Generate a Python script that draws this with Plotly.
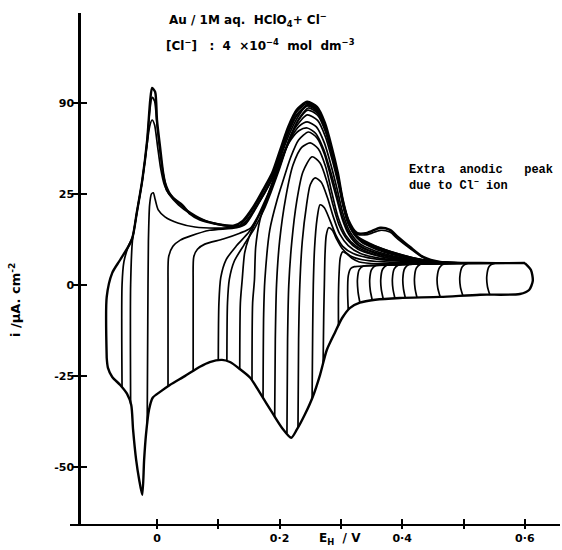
import plotly.graph_objects as go

# ---------------- data (E / V vs SHE, i / uA cm^-2) ----------------
# cathodic envelope (common negative-going sweep, from 0.6 V down to -0.08 V)
cath_E = [0.600, 0.610, 0.613, 0.607, 0.592, 0.527, 0.462, 0.396, 0.356, 0.331, 0.315, 0.302, 0.290,
          0.277, 0.266, 0.254, 0.241, 0.228, 0.219, 0.204, 0.189, 0.168, 0.152, 0.135, 0.119, 0.106,
          0.086, 0.070, 0.046, 0.021, 0.005, -0.007, -0.013, -0.018, -0.021, -0.024, -0.029, -0.034,
          -0.039, -0.042, -0.049, -0.060, -0.073, -0.080, -0.082]
cath_i = [6.0, 4.1, 1.1, -1.4, -2.5, -2.7, -3.3, -3.6, -4.1, -4.9, -6.3, -9.1, -13.2,
          -17.9, -24.7, -30.8, -35.7, -39.8, -42.0, -39.3, -35.4, -29.7, -25.5, -23.1, -21.2, -20.6,
          -21.2, -22.5, -25.0, -27.5, -29.4, -31.0, -34.3, -41.2, -48.1, -57.7, -53.6, -48.1,
          -39.8, -33.0, -29.9, -27.5, -25.3, -22.8, -20.1]

# anodic (positive-going) branches, one per reversal potential
a00_E = [-0.082, -0.082, -0.073, -0.060, -0.041, -0.033, -0.024, -0.016, -0.011, -0.008, -0.003, 0.000,
         0.005, 0.010, 0.016, 0.026, 0.041, 0.054, 0.070, 0.095, 0.124, 0.140, 0.157, 0.173, 0.188,
         0.201, 0.214, 0.228, 0.245, 0.261, 0.274, 0.285, 0.295, 0.303, 0.312, 0.326, 0.343, 0.364,
         0.380, 0.393, 0.413, 0.434, 0.462, 0.527, 0.600]
a00_i = [-20.1, -3.3, 3.3, 6.9, 12.4, 19.8, 28.8, 39.8, 50.8, 54.1, 53.0, 45.3,
         37.9, 30.8, 26.1, 23.9, 22.0, 19.5, 17.9, 16.8, 16.2, 17.6, 21.4, 26.1, 30.8,
         37.1, 43.4, 48.1, 50.3, 48.9, 44.5, 37.9, 30.8, 23.4, 17.9, 14.3, 14.3, 15.7,
         15.1, 13.2, 10.4, 7.7, 6.3, 6.0, 6.0]

a01_E = [-0.057, -0.057, -0.054, -0.047, -0.039, -0.033, -0.024, -0.016, -0.012, -0.008, -0.004, 0.000,
         0.005, 0.012, 0.020, 0.035, 0.055, 0.080, 0.110, 0.135, 0.157, 0.173, 0.188, 0.201, 0.214,
         0.228, 0.246, 0.261, 0.274, 0.285, 0.295, 0.303, 0.312, 0.326, 0.343, 0.364, 0.380, 0.393,
         0.413, 0.434, 0.462, 0.527, 0.600]
a01_i = [-28.2, 0.0, 6.3, 10.5, 13.7, 19.8, 28.8, 39.8, 47.5, 51.5, 50.5, 44.0,
         36.5, 29.0, 25.5, 22.5, 19.8, 17.6, 16.5, 16.4, 21.0, 25.6, 30.3, 36.6, 42.8,
         47.6, 49.9, 48.5, 44.0, 37.4, 30.3, 23.0, 17.5, 14.0, 13.8, 15.0, 14.5, 12.6,
         10.0, 7.5, 6.2, 6.0, 6.0]

a02_E = [-0.043, -0.043, -0.040, -0.033, -0.024, -0.017, -0.012, -0.008, -0.004, 0.001, 0.006, 0.012,
         0.020, 0.035, 0.055, 0.080, 0.110, 0.135, 0.150, 0.160, 0.175, 0.190, 0.203, 0.216, 0.230,
         0.246, 0.261, 0.274, 0.285, 0.295, 0.303, 0.312, 0.326, 0.345, 0.370, 0.400, 0.430, 0.460,
         0.500, 0.600]
a02_i = [-32.6, 0.0, 12.2, 19.6, 28.6, 37.5, 43.5, 45.3, 44.0, 38.0, 32.0, 27.5,
         24.8, 22.0, 19.5, 17.5, 16.3, 16.1, 18.3, 21.0, 25.0, 30.0, 35.8, 41.5, 46.2,
         49.6, 48.2, 43.8, 37.2, 30.0, 22.8, 17.2, 13.5, 11.6, 9.8, 8.2, 7.0, 6.3,
         6.0, 6.0]

a03_E = [-0.016, -0.015, -0.014, -0.012, -0.009, -0.006, -0.003, 0.002, 0.013, 0.034, 0.062, 0.095,
         0.124, 0.140, 0.157, 0.173, 0.188, 0.201, 0.214, 0.228, 0.246, 0.261, 0.274, 0.285, 0.295,
         0.303, 0.312, 0.326, 0.350, 0.380, 0.410, 0.440, 0.480, 0.600]
a03_i = [-38.4, -10.0, 12.0, 22.0, 25.0, 25.3, 23.5, 20.6, 18.7, 17.0, 15.9, 15.6,
         15.8, 16.5, 20.2, 24.8, 29.5, 35.8, 42.0, 46.8, 49.4, 48.0, 43.5, 37.0, 29.8,
         22.5, 17.0, 13.2, 11.0, 9.2, 7.8, 6.7, 6.1, 6.0]

a04_E = [0.018, 0.018, 0.019, 0.026, 0.038, 0.054, 0.086, 0.130, 0.145, 0.157, 0.173, 0.188, 0.201,
         0.214, 0.228, 0.246, 0.261, 0.274, 0.285, 0.295, 0.303, 0.312, 0.326, 0.350, 0.380, 0.410,
         0.440, 0.480, 0.600]
a04_i = [-27.9, 0.0, 7.7, 10.6, 12.3, 13.4, 15.0, 15.7, 16.8, 19.8, 24.5, 29.2, 35.5,
         41.7, 46.5, 49.2, 47.7, 43.2, 36.7, 29.6, 22.3, 16.8, 13.0, 10.8, 9.0, 7.6,
         6.6, 6.1, 6.0]

a05_E = [0.059, 0.059, 0.060, 0.066, 0.078, 0.108, 0.135, 0.152, 0.165, 0.178, 0.192, 0.205, 0.218,
         0.232, 0.247, 0.262, 0.275, 0.286, 0.296, 0.305, 0.315, 0.330, 0.355, 0.385, 0.415, 0.445,
         0.485, 0.600]
a05_i = [-23.6, 0.0, 7.7, 9.8, 11.2, 12.6, 14.2, 15.5, 19.0, 23.8, 29.0, 35.0, 41.0,
         45.8, 48.6, 47.2, 42.5, 36.0, 29.0, 22.0, 16.4, 12.6, 10.4, 8.7, 7.4, 6.5,
         6.1, 6.0]

a06_E = [0.100, 0.101, 0.104, 0.113, 0.130, 0.150, 0.165, 0.178, 0.190, 0.203, 0.216, 0.230, 0.246,
         0.262, 0.275, 0.286, 0.296, 0.305, 0.316, 0.332, 0.358, 0.388, 0.418, 0.448, 0.490, 0.600]
a06_i = [-20.8, -5.0, 2.0, 7.0, 10.8, 14.5, 18.6, 23.0, 28.0, 34.0, 40.0, 45.0, 48.0,
         46.6, 42.0, 35.5, 28.5, 21.6, 16.0, 12.2, 10.0, 8.4, 7.2, 6.4, 6.0, 6.0]

a07_E = [0.114, 0.115, 0.118, 0.126, 0.142, 0.160, 0.174, 0.186, 0.198, 0.211, 0.225, 0.245, 0.262,
         0.275, 0.286, 0.296, 0.305, 0.316, 0.333, 0.360, 0.390, 0.420, 0.450, 0.490, 0.600]
a07_i = [-20.9, -5.0, 1.5, 6.5, 11.0, 15.8, 20.5, 25.5, 31.0, 37.5, 43.0, 46.7, 45.2,
         40.6, 34.2, 27.5, 20.8, 15.5, 11.8, 9.6, 8.1, 7.0, 6.3, 6.0, 6.0]

a08_E = [0.135, 0.136, 0.139, 0.143, 0.150, 0.157, 0.173, 0.188, 0.203, 0.218, 0.232, 0.245, 0.260,
         0.273, 0.284, 0.294, 0.303, 0.314, 0.330, 0.356, 0.386, 0.416, 0.446, 0.490, 0.600]
a08_i = [-23.1, -5.0, 1.4, 8.8, 13.0, 15.8, 21.4, 27.5, 34.5, 40.2, 43.6, 44.8, 43.4,
         39.0, 32.8, 26.2, 19.8, 14.8, 11.4, 9.3, 7.9, 6.9, 6.3, 6.0, 6.0]

a09_E = [0.155, 0.156, 0.159, 0.161, 0.168, 0.180, 0.193, 0.206, 0.219, 0.232, 0.245, 0.259, 0.272,
         0.283, 0.293, 0.302, 0.313, 0.329, 0.354, 0.384, 0.414, 0.444, 0.490, 0.600]
a09_i = [-26.3, -5.0, 1.4, 10.4, 17.9, 24.2, 30.5, 36.0, 40.0, 42.4, 43.1, 41.6, 37.2,
         31.2, 25.0, 19.0, 14.3, 11.0, 9.0, 7.7, 6.8, 6.2, 6.0, 6.0]

a10_E = [0.173, 0.174, 0.176, 0.184, 0.196, 0.206, 0.218, 0.231, 0.247, 0.261, 0.273, 0.283, 0.293,
         0.302, 0.313, 0.329, 0.354, 0.384, 0.414, 0.444, 0.490, 0.600]
a10_i = [-31.1, -8.0, 1.4, 15.1, 23.4, 28.8, 35.0, 39.8, 42.0, 40.4, 36.0, 30.0, 23.8,
         18.2, 13.8, 10.7, 8.8, 7.5, 6.7, 6.2, 6.0, 6.0]

a11_E = [0.192, 0.193, 0.195, 0.200, 0.210, 0.222, 0.236, 0.250, 0.263, 0.275, 0.285, 0.295, 0.308,
         0.325, 0.350, 0.380, 0.420, 0.470, 0.600]
a11_i = [-36.2, -15.0, 0.0, 12.0, 24.0, 33.0, 37.8, 39.0, 37.4, 32.5, 25.5, 18.8, 13.6,
         10.6, 8.6, 7.3, 6.5, 6.1, 6.0]

a12_E = [0.212, 0.213, 0.215, 0.220, 0.228, 0.238, 0.253, 0.266, 0.277, 0.287, 0.297, 0.310, 0.328,
         0.355, 0.390, 0.440, 0.500, 0.600]
a12_i = [-40.7, -15.0, 0.0, 12.0, 23.0, 31.0, 35.2, 33.5, 28.5, 22.0, 16.5, 12.5, 9.8,
         8.2, 7.0, 6.3, 6.0, 6.0]

a13_E = [0.230, 0.231, 0.233, 0.237, 0.244, 0.250, 0.258, 0.268, 0.278, 0.288, 0.298, 0.312, 0.332,
         0.360, 0.400, 0.460, 0.600]
a13_i = [-39.2, -15.0, 0.0, 12.0, 22.0, 27.5, 29.4, 28.2, 24.0, 18.5, 14.0, 10.8, 8.6,
         7.4, 6.6, 6.1, 6.0]

a14_E = [0.253, 0.254, 0.255, 0.257, 0.261, 0.266, 0.273, 0.282, 0.292, 0.303, 0.320, 0.345, 0.380,
         0.430, 0.600]
a14_i = [-31.2, -12.0, 0.0, 10.0, 18.0, 22.0, 21.2, 17.8, 13.6, 10.6, 8.6, 7.4, 6.7,
         6.2, 6.0]

a15_E = [0.271, 0.272, 0.273, 0.274, 0.276, 0.280, 0.286, 0.293, 0.302, 0.315, 0.335, 0.370, 0.430, 0.600]
a15_i = [-21.6, -8.0, 0.0, 8.0, 13.5, 15.7, 15.0, 12.6, 10.0, 8.0, 6.9, 6.3, 6.0, 6.0]

a16_E = [0.296, 0.296, 0.297, 0.299, 0.303, 0.309, 0.318, 0.330, 0.360, 0.420, 0.600]
a16_i = [-11.2, -3.0, 3.0, 7.5, 9.1, 8.6, 7.3, 6.3, 5.8, 5.9, 6.0]

a17_E = [0.312, 0.311, 0.312, 0.316, 0.322, 0.340, 0.400, 0.500, 0.600]
a17_i = [-6.9, -2.0, 2.5, 4.5, 5.0, 5.2, 5.6, 6.0, 6.0]

a18_E = [0.331, 0.328, 0.327, 0.330, 0.337, 0.360, 0.420, 0.500, 0.600]
a18_i = [-4.9, -2.0, 1.5, 4.2, 5.2, 5.4, 5.7, 6.0, 6.0]

a19_E = [0.351, 0.348, 0.347, 0.350, 0.357, 0.380, 0.440, 0.510, 0.600]
a19_i = [-4.1, -1.6, 1.5, 4.2, 5.3, 5.5, 5.8, 6.0, 6.0]

a20_E = [0.369, 0.366, 0.365, 0.368, 0.375, 0.400, 0.460, 0.600]
a20_i = [-3.8, -1.4, 1.5, 4.3, 5.4, 5.6, 5.9, 6.0]

a21_E = [0.388, 0.385, 0.384, 0.387, 0.394, 0.420, 0.480, 0.600]
a21_i = [-3.6, -1.2, 1.6, 4.4, 5.5, 5.7, 5.9, 6.0]

a22_E = [0.405, 0.402, 0.401, 0.404, 0.411, 0.440, 0.500, 0.600]
a22_i = [-3.5, -1.0, 1.7, 4.5, 5.6, 5.8, 6.0, 6.0]

a23_E = [0.424, 0.421, 0.420, 0.423, 0.430, 0.460, 0.520, 0.600]
a23_i = [-3.4, -1.0, 1.8, 4.6, 5.7, 5.9, 6.0, 6.0]

a24_E = [0.462, 0.458, 0.457, 0.461, 0.469, 0.500, 0.600]
a24_i = [-3.3, -0.8, 2.0, 4.8, 5.8, 6.0, 6.0]

a25_E = [0.499, 0.495, 0.494, 0.498, 0.506, 0.540, 0.600]
a25_i = [-3.0, -0.6, 2.2, 5.0, 5.9, 6.0, 6.0]

a26_E = [0.543, 0.539, 0.538, 0.542, 0.550, 0.580, 0.600]
a26_i = [-2.8, -0.4, 2.4, 5.1, 5.9, 6.0, 6.0]

# axis ticks
x_tickvals = [0.0, 0.1, 0.2, 0.3, 0.4, 0.5, 0.6]
x_ticktext = ["0", "", "0·2", "", "0·4", "", "0·6"]
y_tickvals = [-50, -25, 0, 25, 50]
y_ticktext = ["-50", "-25", "0", "25", "90"]

x_range = [-0.1419, 0.6574]
y_range = [-65.7, 74.7]

# ---------------- figure ----------------
inner = [
    (a26_E, a26_i), (a25_E, a25_i), (a24_E, a24_i), (a23_E, a23_i), (a22_E, a22_i),
    (a21_E, a21_i), (a20_E, a20_i), (a19_E, a19_i), (a18_E, a18_i), (a17_E, a17_i),
    (a16_E, a16_i), (a15_E, a15_i), (a14_E, a14_i), (a13_E, a13_i), (a12_E, a12_i),
    (a11_E, a11_i), (a10_E, a10_i), (a09_E, a09_i), (a08_E, a08_i), (a07_E, a07_i),
    (a06_E, a06_i), (a05_E, a05_i), (a04_E, a04_i), (a03_E, a03_i), (a02_E, a02_i),
    (a01_E, a01_i),
]

fig = go.Figure()
for E, I in inner:
    fig.add_trace(go.Scatter(x=E, y=I, mode="lines",
                             line=dict(color="black", width=1.7, shape="spline", smoothing=0.7),
                             hoverinfo="skip", showlegend=False))
for E, I in [(a00_E, a00_i), (cath_E, cath_i)]:
    fig.add_trace(go.Scatter(x=E, y=I, mode="lines",
                             line=dict(color="black", width=2.4, shape="spline", smoothing=0.7),
                             hoverinfo="skip", showlegend=False))

# dummy trace for the overlay axes that carry the inner half of the crossing ticks
fig.add_trace(go.Scatter(x=[None], y=[None], xaxis="x2", yaxis="y2",
                         hoverinfo="skip", showlegend=False))

ypos = 9 / 490
tickfont = dict(family="DejaVu Sans", size=11, color="black", weight="bold")

fig.update_layout(
    width=562, height=550,
    margin=dict(l=70, r=2, t=13, b=26),
    paper_bgcolor="white", plot_bgcolor="white",
    xaxis=dict(range=x_range, domain=[0, 1], anchor="y", showgrid=False, zeroline=False,
               showline=True, linecolor="black", linewidth=2,
               ticks="outside", ticklen=3, tickwidth=2, tickcolor="black",
               tickvals=x_tickvals, ticktext=x_ticktext, tickfont=tickfont),
    yaxis=dict(range=y_range, anchor="free", position=ypos, showgrid=False, zeroline=False,
               showline=True, linecolor="black", linewidth=2.5,
               ticks="outside", ticklen=6, tickwidth=2, tickcolor="black",
               ticklabelstandoff=-4,
               tickvals=y_tickvals, ticktext=y_ticktext, tickfont=tickfont),
    xaxis2=dict(range=x_range, overlaying="x", anchor="y2", showgrid=False, zeroline=False,
                showline=False, ticks="inside", ticklen=5, tickwidth=2, tickcolor="black",
                tickvals=x_tickvals, showticklabels=False),
    yaxis2=dict(range=y_range, overlaying="y", anchor="free", position=ypos, showgrid=False,
                zeroline=False, showline=False, ticks="inside", ticklen=7, tickwidth=2,
                tickcolor="black", tickvals=y_tickvals, showticklabels=False),
)

nb = "\u00a0"
tfont = dict(family="DejaVu Sans", size=12, color="black", weight="bold")
ann = [
    dict(text=f"Au{nb}/{nb}1M{nb}aq.{nb}{nb}HClO<sub>4</sub>+{nb}Cl<sup>−</sup>",
         x=(248 - 70) / 490, y=(524 - 20) / 511),
    dict(text=f"[Cl<sup>−</sup>]{nb}{nb}{nb}:{nb}{nb}4{nb}{nb}×10<sup>−4</sup>{nb}{nb}mol{nb}{nb}dm<sup>−3</sup>",
         x=(260 - 70) / 490, y=(524 - 45) / 511),
]
for a in ann:
    fig.add_annotation(xref="paper", yref="paper", showarrow=False, xanchor="center",
                       yanchor="middle", font=tfont, **a)

fig.add_annotation(text=f"E<sub>H</sub>{nb}{nb}/{nb}V", xref="paper", yref="paper",
                   x=(340 - 70) / 490, y=(524 - 539) / 511, xanchor="center", yanchor="middle",
                   showarrow=False, font=dict(family="DejaVu Sans", size=12, color="black", weight="bold"))

mono = dict(family="Liberation Mono", size=12, color="black", weight="bold")
fig.add_annotation(text=f"Extra{nb}{nb}anodic{nb}{nb}{nb}peak", xref="paper", yref="paper",
                   x=(407 - 70) / 490, y=(524 - 170) / 511, xanchor="left", yanchor="middle",
                   showarrow=False, font=mono)
fig.add_annotation(text=f"due{nb}to{nb}Cl<sup>−</sup>{nb}ion", xref="paper", yref="paper",
                   x=(407 - 70) / 490, y=(524 - 185) / 511, xanchor="left", yanchor="middle",
                   showarrow=False, font=mono)
fig.add_annotation(text=f"i{nb}/µA.{nb}cm<sup>-2</sup>", xref="paper", yref="paper",
                   x=(15 - 70) / 490, y=(524 - 300) / 511, xanchor="center", yanchor="middle",
                   textangle=-90, showarrow=False,
                   font=dict(family="DejaVu Sans", size=13, color="black", weight="bold"))

fig.write_html("out.html")
